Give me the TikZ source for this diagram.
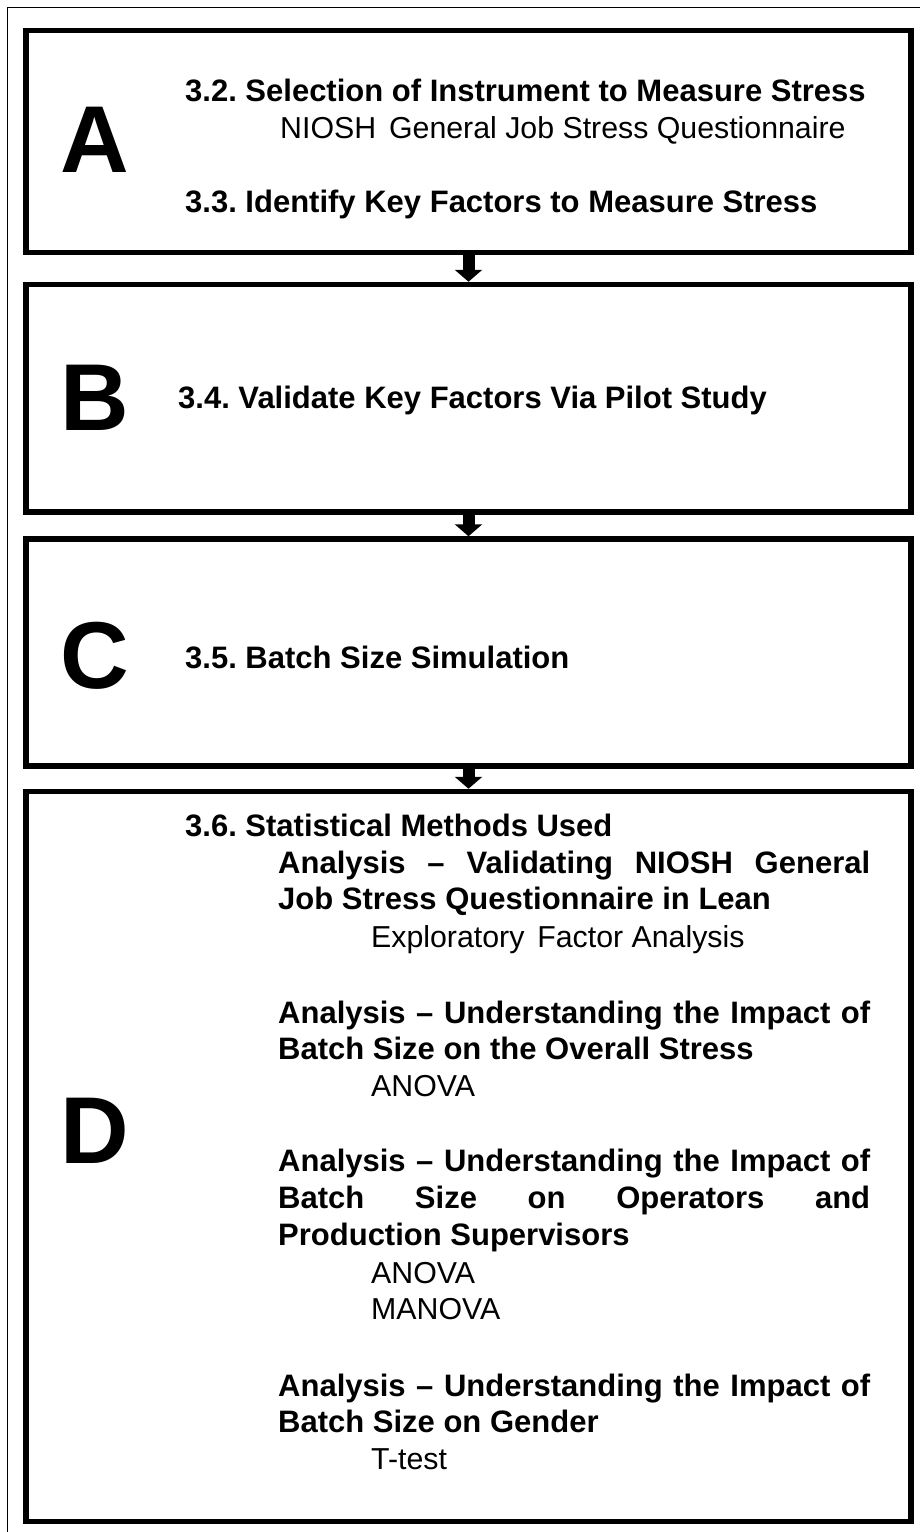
\documentclass[tikz,border=0pt]{standalone}
\usepackage{fontspec}
\setmainfont{Liberation Sans}
\usetikzlibrary{arrows.meta}
\frenchspacing

\begin{document}
\begin{tikzpicture}[x=1pt, y=-1pt,
		stagebox/.style = {draw, line width=5.5pt, minimum width=885pt, inner sep=0pt},
		stageletter/.style = {anchor=base, inner sep=0pt, font=\fontsize{95}{95}\selectfont\bfseries},
		headtext/.style = {anchor=base west, inner sep=0pt, font=\fontsize{31}{37}\selectfont\bfseries},
		plaintext/.style = {anchor=base west, inner sep=0pt, font=\fontsize{30.3}{37}\selectfont},
		flowarrow/.style = {line width=12pt, -{Triangle[width=27pt, length=12pt]}}]
		\useasboundingbox (0,0) rectangle (920,1532);
		% outer frame, cut off at right and bottom
		\draw [line width=1.5pt] (7.5,1532) -- (7.5,7.5) -- (920,7.5);

		% the four stages
		\node [stagebox, minimum height=222pt] (boxA) at (468.5,141.5) {};
		\node [stagebox, minimum height=227.5pt] (boxB) at (468.5,398.25) {};
		\node [stagebox, minimum height=227pt] (boxC) at (468.5,652.5) {};
		\node [stagebox, minimum height=730pt] (boxD) at (468.5,1156.5) {};
		\foreach \a/\b in {A/B, B/C, C/D}
			\draw [flowarrow] (box\a.south) -- (box\b.north);

		\node [stageletter] (letA) at (95,172) {A};
		\node [stageletter] (letB) at (95,430) {B};
		\node [stageletter] (letC) at (95,688) {C};
		\node [stageletter] (letD) at (95,1163) {D};

		% stage A
		\node [headtext] (selInstr) at (185,101) {3.2. Selection of Instrument to Measure Stress};
		\node [plaintext] (nioshQ) at (280,138) {NIOSH\hspace{0.15em} General Job Stress Questionnaire};
		\node [headtext] (keyFact) at (185,212) {3.3. Identify Key Factors to Measure Stress};
		% stage B
		\node [headtext] (pilot) at (178,408) {3.4. Validate Key Factors Via Pilot Study};
		% stage C
		\node [headtext] (batchSim) at (185,668) {3.5. Batch Size Simulation};
		% stage D
		\node [headtext] (statMeth) at (185,836) {3.6. Statistical Methods Used};
		\node [headtext] (anaOneA) at (278,873) {\makebox[592pt][s]{Analysis – Validating NIOSH General}};
		\node [headtext] (anaOneB) at (278,909) {Job Stress Questionnaire in Lean};
		\node [plaintext] (efa) at (371,947) {Exploratory\hspace{0.15em} Factor Analysis};
		\node [headtext] (anaTwoA) at (278,1023) {\makebox[592pt][s]{Analysis – Understanding the Impact of}};
		\node [headtext] (anaTwoB) at (278,1059) {Batch Size on the Overall Stress};
		\node [plaintext] (anovaOne) at (371,1096) {ANOVA};
		\node [headtext] (anaThreeA) at (278,1171) {\makebox[592pt][s]{Analysis – Understanding the Impact of}};
		\node [headtext] (anaThreeB) at (278,1208) {\makebox[592pt][s]{Batch Size on Operators and}};
		\node [headtext] (anaThreeC) at (278,1245) {Production Supervisors};
		\node [plaintext] (anovaTwo) at (371,1283) {ANOVA};
		\node [plaintext] (manova) at (371,1319) {MANOVA};
		\node [headtext] (anaFourA) at (278,1396) {\makebox[592pt][s]{Analysis – Understanding the Impact of}};
		\node [headtext] (anaFourB) at (278,1432) {Batch Size on Gender};
		\node [plaintext] (ttest) at (371,1469) {T-test};
	\end{tikzpicture}
\end{document}
